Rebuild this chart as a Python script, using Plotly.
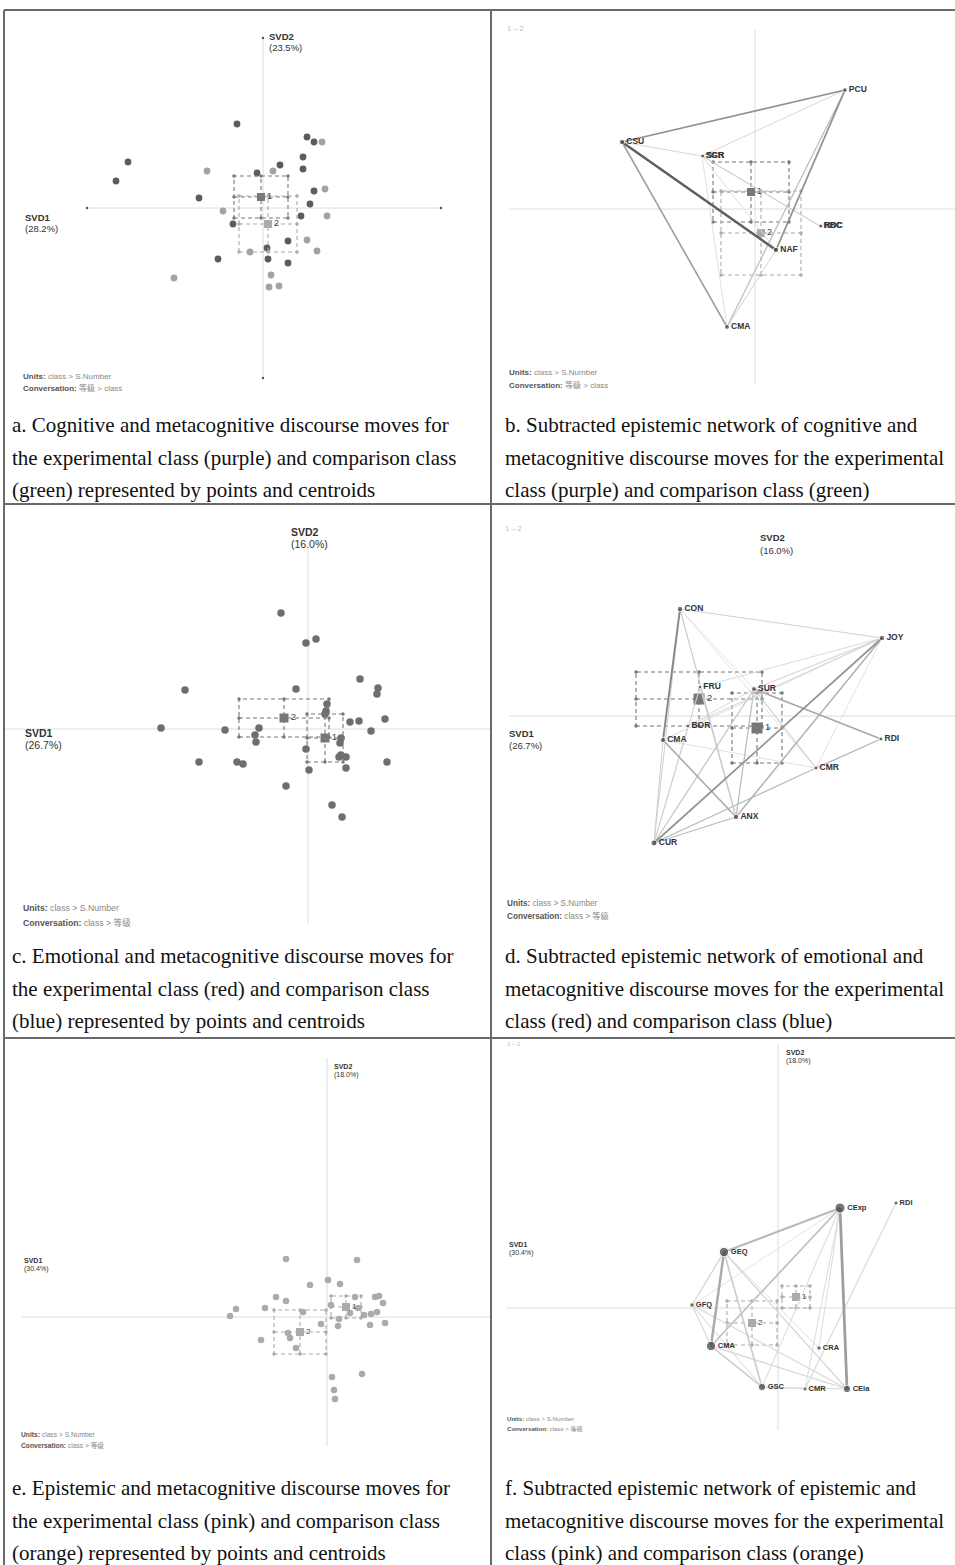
import plotly.graph_objects as go

W, H = 955, 1565

# ===================== DATA =====================
# --- Panel a: cognitive & metacognitive, points + centroids ---
A_SVD1_PCT = 28.2
A_SVD2_PCT = 23.5
A_EXP_X = [-0.26, 0.44, 0.51, -1.35, 0.40, -1.47, 0.17, 0.40, -0.06, -0.64, 0.51, 0.47, 0.38, -0.30, 0.25, 0.04, -0.45, 0.05, 0.25]
A_EXP_Y = [0.84, 0.71, 0.66, 0.46, 0.51, 0.27, 0.43, 0.39, 0.35, 0.10, 0.17, 0.04, -0.08, -0.16, -0.33, -0.40, -0.51, -0.51, -0.55]
A_CMP_X = [0.59, -0.56, 0.10, 0.62, -0.40, 0.64, 0.44, -0.13, 0.54, 0.08, -0.89, 0.06, 0.16]
A_CMP_Y = [0.66, 0.37, 0.37, 0.19, -0.03, -0.08, -0.32, -0.44, -0.43, -0.67, -0.70, -0.79, -0.78]
A_CENTROID_X = [-0.02, 0.05]
A_CENTROID_Y = [0.11, -0.16]
A_CI_X = [0.27, 0.29]
A_CI_Y = [0.21, 0.28]

# --- Panel b: subtracted network (cognitive) ---
B_NODES = ["PCU", "CSU", "SGR", "SCR", "RBC", "RDC", "NAF", "CMA"]
B_NODE_X = [0.90, -1.33, -0.53, -0.52, 0.65, 0.66, 0.21, -0.28]
B_NODE_Y = [1.19, 0.67, 0.53, 0.53, -0.17, -0.17, -0.41, -1.18]
B_NODE_W = [0.35, 0.6, 0.1, 0.1, 0.1, 0.1, 0.6, 0.45]
B_EDGES = [("CSU", "PCU", 0.55), ("CSU", "NAF", 0.9), ("CSU", "CMA", 0.45), ("PCU", "NAF", 0.55),
           ("PCU", "CMA", 0.25), ("CSU", "SGR", 0.08), ("SGR", "PCU", 0.08), ("SGR", "RBC", 0.15),
           ("SGR", "CMA", 0.04), ("SGR", "NAF", 0.06), ("CMA", "NAF", 0.1)]
B_CENTROID_X = [-0.04, 0.06]
B_CENTROID_Y = [0.17, -0.24]
B_CI_X = [0.38, 0.40]
B_CI_Y = [0.30, 0.42]

# --- Panel c: emotional & metacognitive, points + centroids ---
C_SVD1_PCT = 26.7
C_SVD2_PCT = 16.0
C_X = [-0.27, -0.02, 0.08, 0.52, -1.23, -0.12, 0.70, 0.69, 0.19, 0.18, 0.17, 0.77, 0.42, 0.51, -1.47, -0.83, -0.49, 0.63,
       -0.53, 0.33, -0.52, 0.32, -0.02, 0.33, 0.31, 0.38, -1.09, -0.71, -0.65, 0.79, 0.01, 0.38, -0.22, 0.24, 0.34]
C_Y = [1.16, 0.86, 0.90, 0.50, 0.39, 0.40, 0.41, 0.35, 0.25, 0.18, 0.15, 0.10, 0.07, 0.08, 0.01, -0.01, 0.01, -0.02,
       -0.06, -0.09, -0.13, -0.14, -0.20, -0.26, -0.28, -0.28, -0.33, -0.33, -0.35, -0.33, -0.41, -0.39, -0.57, -0.76, -0.88]
C_CENTROID_X = [0.17, -0.24]
C_CENTROID_Y = [-0.09, 0.11]
C_CI_X = [0.18, 0.45]
C_CI_Y = [0.24, 0.19]

# --- Panel d: subtracted network (emotional) ---
D_NODES = ["CON", "JOY", "FRU", "SUR", "BOR", "CMA", "RDI", "CMR", "ANX", "CUR"]
D_NODE_X = [-0.75, 1.27, -0.55, -0.01, -0.67, -0.92, 1.26, 0.61, -0.19, -1.01]
D_NODE_Y = [1.07, 0.78, 0.29, 0.27, -0.10, -0.24, -0.23, -0.52, -1.01, -1.27]
D_NODE_W = [0.55, 0.55, 0.05, 0.4, 0.1, 0.45, 0.15, 0.15, 0.55, 0.75]
D_EDGES = [("CON", "CMA", 0.7), ("CON", "JOY", 0.15), ("CON", "CUR", 0.15), ("CON", "ANX", 0.2),
           ("CON", "CMR", 0.04), ("CON", "SUR", 0.04), ("JOY", "CUR", 0.6), ("JOY", "ANX", 0.4),
           ("JOY", "SUR", 0.15), ("JOY", "FRU", 0.1), ("JOY", "BOR", 0.1), ("JOY", "CMA", 0.1),
           ("JOY", "CMR", 0.04), ("SUR", "RDI", 0.45), ("SUR", "CUR", 0.25), ("SUR", "ANX", 0.3),
           ("SUR", "CMR", 0.15), ("SUR", "BOR", 0.1), ("CMA", "ANX", 0.45), ("CMA", "CMR", 0.05),
           ("RDI", "CMR", 0.35), ("CMR", "CUR", 0.3), ("ANX", "CUR", 0.3), ("CUR", "CMA", 0.15),
           ("CUR", "BOR", 0.1), ("CUR", "FRU", 0.15), ("FRU", "ANX", 0.15)]
D_CENTROID_X = [0.02, -0.56]
D_CENTROID_Y = [-0.12, 0.17]
D_CI_X = [0.25, 0.63]
D_CI_Y = [0.35, 0.27]

# --- Panel e: epistemic & metacognitive, points + centroids ---
E_SVD1_PCT = 30.4
E_SVD2_PCT = 18.0
E_X = [-0.41, 0.30, 0.01, 0.13, -0.17, -0.51, -0.41, 0.28, 0.48, 0.52, 0.56, -0.91, -0.62, 0.04, -0.24, 0.31, -0.97,
       0.23, 0.12, 0.37, 0.44, 0.50, 0.58, -0.06, 0.11, 0.43, -0.39, -0.37, -0.66, -0.31, 0.05, 0.35, 0.07, 0.08]
E_Y = [0.58, 0.57, 0.37, 0.33, 0.32, 0.20, 0.16, 0.20, 0.20, 0.21, 0.14, 0.08, 0.09, 0.12, 0.05, 0.09, 0.01,
       0.04, -0.02, 0.02, 0.03, 0.05, -0.06, -0.07, -0.09, -0.08, -0.16, -0.21, -0.23, -0.31, -0.60, -0.57, -0.73, -0.82]
E_CENTROID_X = [0.19, -0.27]
E_CENTROID_Y = [0.10, -0.15]
E_CI_X = [0.15, 0.26]
E_CI_Y = [0.11, 0.22]

# --- Panel f: subtracted network (epistemic) ---
F_NODES = ["CExp", "RDI", "GEQ", "GFQ", "CMA", "CRA", "GSC", "CMR", "CEla"]
F_NODE_X = [0.62, 1.18, -0.54, -0.86, -0.67, 0.41, -0.16, 0.27, 0.69]
F_NODE_Y = [1.00, 1.05, 0.56, 0.03, -0.38, -0.40, -0.79, -0.81, -0.81]
F_NODE_W = [1.0, 0.1, 0.9, 0.15, 0.9, 0.15, 0.6, 0.1, 0.6]
F_EDGES = [("CExp", "GEQ", 0.55), ("CExp", "CMA", 0.45), ("CExp", "CEla", 0.9), ("CExp", "GSC", 0.1),
           ("CExp", "CMR", 0.1), ("CExp", "CRA", 0.1), ("CExp", "GFQ", 0.04), ("GEQ", "CMA", 0.75),
           ("GEQ", "GFQ", 0.2), ("GEQ", "GSC", 0.35), ("GEQ", "CEla", 0.2), ("GEQ", "CRA", 0.08),
           ("GFQ", "CMA", 0.15), ("GFQ", "CEla", 0.15), ("GFQ", "GSC", 0.1), ("CMA", "GSC", 0.35),
           ("CMA", "CEla", 0.2), ("GSC", "CEla", 0.15), ("GSC", "CMR", 0.1), ("RDI", "CMR", 0.15)]
F_CENTROID_X = [0.18, -0.26]
F_CENTROID_Y = [0.11, -0.15]
F_CI_X = [0.14, 0.25]
F_CI_Y = [0.11, 0.22]

UNITS = "class &gt; S.Number"
CONV_AB = "等级 &gt; class"
CONV_CDEF = "class &gt; 等级"

CAPTIONS = {
    "a": ["a. Cognitive and metacognitive discourse moves for",
          "the experimental class (purple) and comparison class",
          "(green) represented by points and centroids"],
    "b": ["b. Subtracted epistemic network of cognitive and",
          "metacognitive discourse moves for the experimental",
          "class (purple) and comparison class (green)"],
    "c": ["c. Emotional and metacognitive discourse moves for",
          "the experimental class (red) and comparison class",
          "(blue) represented by points and centroids"],
    "d": ["d. Subtracted epistemic network of emotional and",
          "metacognitive discourse moves for the experimental",
          "class (red) and comparison class (blue)"],
    "e": ["e. Epistemic and metacognitive discourse moves for",
          "the experimental class (pink) and comparison class",
          "(orange) represented by points and centroids"],
    "f": ["f. Subtracted epistemic network of epistemic and",
          "metacognitive discourse moves for the experimental",
          "class (pink) and comparison class (orange)"],
}

# ===================== LAYOUT HELPERS =====================
SANS = "Liberation Sans, Arial, Noto Sans CJK SC, sans-serif"
SERIF = "Liberation Serif, Times New Roman, serif"
SCALE = 100.0  # px per SVD unit

# panel boxes (px): x0, y0, x1, y1 ; origin px
PANELS = {
    "a": dict(idx=1, box=(5, 10, 491, 400), origin=(263, 208)),
    "b": dict(idx=2, box=(491, 10, 955, 400), origin=(755, 209)),
    "c": dict(idx=3, box=(5, 504, 491, 935), origin=(308, 729)),
    "d": dict(idx=4, box=(491, 504, 955, 935), origin=(755, 716)),
    "e": dict(idx=5, box=(5, 1038, 491, 1462), origin=(327, 1317)),
    "f": dict(idx=6, box=(491, 1038, 955, 1462), origin=(778, 1308)),
}

fig = go.Figure()
shapes = []
annotations = []


def refs(idx):
    return ("x", "y") if idx == 1 else (f"x{idx}", f"y{idx}")


for key, p in PANELS.items():
    idx = p["idx"]
    x0, y0, x1, y1 = p["box"]
    ox, oy = p["origin"]
    xa = dict(domain=[x0 / W, x1 / W], range=[(x0 - ox) / SCALE, (x1 - ox) / SCALE],
              visible=False, fixedrange=True)
    ya = dict(domain=[1 - y1 / H, 1 - y0 / H], range=[(oy - y1) / SCALE, (oy - y0) / SCALE],
              visible=False, fixedrange=True)
    xn = "xaxis" if idx == 1 else f"xaxis{idx}"
    yn = "yaxis" if idx == 1 else f"yaxis{idx}"
    xr, yr = refs(idx)
    xa["anchor"] = yr
    ya["anchor"] = xr
    fig.layout[xn] = xa
    fig.layout[yn] = ya


def ann(x, y, text, size, color="#333", family=SANS, xanchor="left", yanchor="middle"):
    annotations.append(dict(x=x / W, y=1 - y / H, xref="paper", yref="paper", text=text,
                            showarrow=False, xanchor=xanchor, yanchor=yanchor,
                            font=dict(size=size, color=color, family=family)))


def axis_lines(key, xext, yext, color="#dcdcdc", enddots=False):
    xr, yr = refs(PANELS[key]["idx"])
    if xext:
        shapes.append(dict(type="line", xref=xr, yref=yr, x0=xext[0], x1=xext[1], y0=0, y1=0,
                           line=dict(color=color, width=1), layer="below"))
    if yext:
        shapes.append(dict(type="line", xref=xr, yref=yr, x0=0, x1=0, y0=yext[0], y1=yext[1],
                           line=dict(color=color, width=1), layer="below"))
    if enddots:
        xs = [xext[0], xext[1], 0, 0]
        ys = [0, 0, yext[0], yext[1]]
        fig.add_trace(go.Scatter(x=xs, y=ys, xaxis=xr, yaxis=yr, mode="markers",
                                 marker=dict(size=2.5, color="#555"), hoverinfo="skip"))


def ci_box(key, cx, cy, hx, hy, color):
    xr, yr = refs(PANELS[key]["idx"])
    xs = [cx - hx, cx + hx, cx + hx, cx - hx, cx - hx, None, cx - hx, cx + hx, None, cx, cx]
    ys = [cy - hy, cy - hy, cy + hy, cy + hy, cy - hy, None, cy, cy, None, cy - hy, cy + hy]
    fig.add_trace(go.Scatter(x=xs, y=ys, xaxis=xr, yaxis=yr, mode="lines",
                             line=dict(color=color, width=1.1, dash="4px,3px"), hoverinfo="skip"))
    dx = [cx - hx, cx, cx + hx, cx - hx, cx + hx, cx - hx, cx, cx + hx]
    dy = [cy - hy, cy - hy, cy - hy, cy, cy, cy + hy, cy + hy, cy + hy]
    fig.add_trace(go.Scatter(x=dx, y=dy, xaxis=xr, yaxis=yr, mode="markers",
                             marker=dict(size=3.5, color=color), hoverinfo="skip"))


def centroids(key, cxs, cys, hxs, hys, colors, size, fsize=9):
    xr, yr = refs(PANELS[key]["idx"])
    for i in range(len(cxs)):
        ci_box(key, cxs[i], cys[i], hxs[i], hys[i], colors[i])
    for i in range(len(cxs)):
        fig.add_trace(go.Scatter(x=[cxs[i]], y=[cys[i]], xaxis=xr, yaxis=yr, mode="markers+text",
                                 marker=dict(symbol="square", size=size, color=colors[i]),
                                 text=[str(i + 1)], textposition="middle right",
                                 textfont=dict(size=fsize, color="#444", family=SANS), hoverinfo="skip"))


def points(key, xs, ys, color, size):
    xr, yr = refs(PANELS[key]["idx"])
    fig.add_trace(go.Scatter(x=xs, y=ys, xaxis=xr, yaxis=yr, mode="markers",
                             marker=dict(size=size, color=color, line=dict(width=0)), hoverinfo="skip"))


def network(key, names, nx, ny, nw, edges, dark, light, wmax, smin, smax, fsize):
    xr, yr = refs(PANELS[key]["idx"])
    pos = {n: (nx[i], ny[i]) for i, n in enumerate(names)}
    for a, b, w in sorted(edges, key=lambda e: e[2]):
        g = int(round(light - (light - dark) * w))
        fig.add_trace(go.Scatter(x=[pos[a][0], pos[b][0]], y=[pos[a][1], pos[b][1]], xaxis=xr, yaxis=yr,
                                 mode="lines", line=dict(color=f"rgb({g},{g},{g})", width=0.8 + wmax * w),
                                 hoverinfo="skip"))
    sizes = [smin + (smax - smin) * w for w in nw]
    fig.add_trace(go.Scatter(x=nx, y=ny, xaxis=xr, yaxis=yr, mode="markers+text",
                             marker=dict(size=sizes, color="#3a3a3a"),
                             text=[f"<b>{n}</b>" for n in names], textposition="middle right",
                             textfont=dict(size=fsize, color="#333", family=SANS), hoverinfo="skip"))


def svd_labels(x1, y1, x2, y2, p1, p2, size, gap):
    ann(x2, y2, "<b>SVD2</b>", size)
    ann(x2, y2 + gap, f"({p2:.1f}%)", size)
    ann(x1, y1, "<b>SVD1</b>", size)
    ann(x1, y1 + gap, f"({p1:.1f}%)", size)


def units(x, y, conv, size, gap):
    ann(x, y, f"<b>Units:</b> <span style='color:#888'>{UNITS}</span>", size, color="#555")
    ann(x, y + gap, f"<b>Conversation:</b> <span style='color:#888'>{conv}</span>", size, color="#555")


# ===================== PANEL a =====================
axis_lines("a", (-1.76, 1.78), (-1.70, 1.70), enddots=True)
points("a", A_CMP_X, A_CMP_Y, "#a3a3a3", 6.8)
points("a", A_EXP_X, A_EXP_Y, "#5c5c5c", 6.8)
centroids("a", A_CENTROID_X, A_CENTROID_Y, A_CI_X, A_CI_Y, ["#7a7a7a", "#ababab"], 8, 9)
svd_labels(23, 217, 267, 36, A_SVD1_PCT, A_SVD2_PCT, 9.5, 11)
units(21, 376, CONV_AB, 8, 12)

# ===================== PANEL b =====================
axis_lines("b", (-2.46, 2.02), (-1.76, 1.79))
centroids("b", B_CENTROID_X, B_CENTROID_Y, B_CI_X, B_CI_Y, ["#777777", "#ababab"], 8, 9)
network("b", B_NODES, B_NODE_X, B_NODE_Y, B_NODE_W, B_EDGES, 80, 225, 1.8, 3.5, 6.5, 8.5)
ann(505, 29, "1 – 2", 7.5, color="#bbb")
units(507, 372, CONV_AB, 8, 13)

# ===================== PANEL c =====================
axis_lines("c", (-3.05, 1.85), (-1.94, 1.81))
points("c", C_X, C_Y, "#6e6e6e", 7.5)
centroids("c", C_CENTROID_X, C_CENTROID_Y, C_CI_X, C_CI_Y, ["#777777", "#777777"], 9, 9.5)
svd_labels(23, 733, 289, 532, C_SVD1_PCT, C_SVD2_PCT, 10.5, 12)
units(21, 908, CONV_CDEF, 8.7, 14)

# ===================== PANEL d =====================
axis_lines("d", (-2.46, 2.02), None)
centroids("d", D_CENTROID_X, D_CENTROID_Y, D_CI_X, D_CI_Y, ["#777777", "#777777"], 11, 9.5)
network("d", D_NODES, D_NODE_X, D_NODE_Y, D_NODE_W, D_EDGES, 95, 228, 1.6, 3.5, 7.0, 8.5)
ann(503, 528, "1 – 2", 7.5, color="#bbb")
svd_labels(507, 733, 758, 538, C_SVD1_PCT, C_SVD2_PCT, 9.5, 12)
units(505, 903, CONV_CDEF, 8.2, 13)

# ===================== PANEL e =====================
axis_lines("e", (-3.05, 1.63), (-1.29, 2.59))
points("e", E_X, E_Y, "#ababab", 6.5)
centroids("e", E_CENTROID_X, E_CENTROID_Y, E_CI_X, E_CI_Y, ["#ababab", "#ababab"], 8, 8)
svd_labels(22, 1260, 332, 1066, E_SVD1_PCT, E_SVD2_PCT, 7, 9)
units(19, 1434, CONV_CDEF, 6.7, 11)

# ===================== PANEL f =====================
axis_lines("f", (-2.71, 1.77), (-1.22, 2.63))
centroids("f", F_CENTROID_X, F_CENTROID_Y, F_CI_X, F_CI_Y, ["#ababab", "#ababab"], 8, 8)
network("f", F_NODES, F_NODE_X, F_NODE_Y, F_NODE_W, F_EDGES, 150, 228, 2.2, 3.5, 10.0, 7.5)
ann(505, 1044, "1 – 2", 6, color="#bbb")
svd_labels(507, 1244, 784, 1052, E_SVD1_PCT, E_SVD2_PCT, 7, 9)
units(505, 1418, CONV_CDEF, 6.1, 11)

# ===================== CAPTIONS =====================
CAP_POS = {"a": (10, 425), "b": (503, 425), "c": (10, 956), "d": (503, 956), "e": (10, 1488), "f": (503, 1488)}
for k, lines in CAPTIONS.items():
    cx, cy = CAP_POS[k]
    for i, line in enumerate(lines):
        ann(cx, cy + i * 32.5, line, 21, color="#111", family=SERIF)

# ===================== TABLE LINES =====================
LINE = dict(color="#6a6a6a", width=2)
for (x0, y0, x1, y1) in [(4, 10, 955, 10), (4, 10, 4, 1565), (491, 10, 491, 1565),
                          (4, 504, 955, 504), (4, 1038, 955, 1038)]:
    shapes.append(dict(type="line", xref="paper", yref="paper", x0=x0 / W, x1=x1 / W,
                       y0=1 - y0 / H, y1=1 - y1 / H, line=LINE))

fig.update_layout(width=W, height=H, margin=dict(l=0, r=0, t=0, b=0), showlegend=False,
                  paper_bgcolor="white", plot_bgcolor="white", shapes=shapes, annotations=annotations,
                  hovermode=False)
fig.write_html("out.html", config={"displayModeBar": False},
               post_script="document.body.style.margin='0px';document.body.style.overflow='hidden';")
